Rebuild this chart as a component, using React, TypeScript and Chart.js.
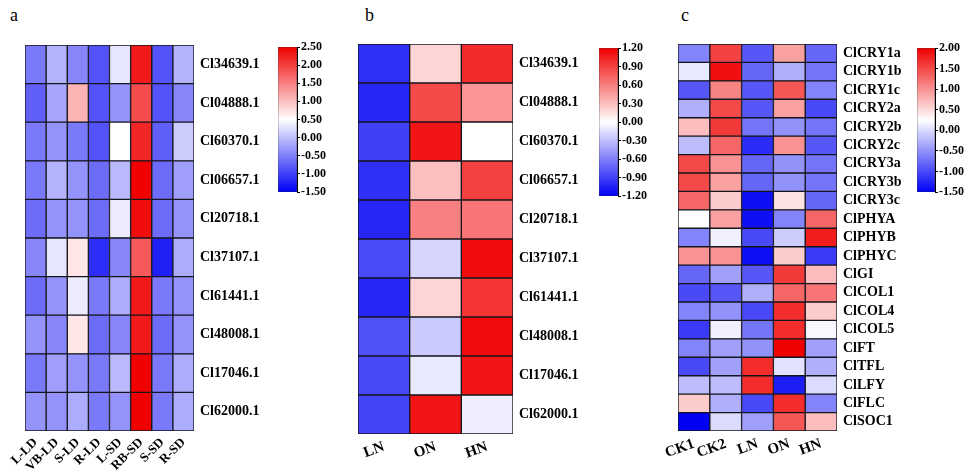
import React, { useEffect, useRef } from "react";
import { Chart, registerables } from "chart.js";

Chart.register(...registerables);
Chart.defaults.font.family = "'Liberation Serif', 'Times New Roman', serif";
Chart.defaults.color = "#000";

// ---------- Panel a ----------
const A_ROWS = ["Cl34639.1", "Cl04888.1", "Cl60370.1", "Cl06657.1", "Cl20718.1", "Cl37107.1", "Cl61441.1", "Cl48008.1", "Cl17046.1", "Cl62000.1"];
const A_COLS = ["L-LD", "VB-LD", "S-LD", "R-LD", "L-SD", "RB-SD", "S-SD", "R-SD"];
const A_VALUES = [
  [-0.55, -0.1, -0.45, -0.85, 0.3, 2.3, -0.85, -0.1],
  [-0.75, -0.2, 1.1, -0.85, -0.35, 1.9, -0.85, -0.45],
  [-0.55, -0.35, -0.55, -0.85, 0.5, 2.2, -0.75, 0.1],
  [-0.55, -0.1, -0.35, -0.65, -0.05, 2.5, -0.65, -0.25],
  [-0.65, -0.35, -0.35, -0.65, 0.35, 2.4, -0.65, -0.35],
  [-0.45, 0.3, 0.7, -1.15, -0.45, 1.8, -1.25, -0.15],
  [-0.65, -0.35, 0.35, -0.55, -0.15, 2.3, -0.55, -0.35],
  [-0.35, -0.45, 0.7, -0.65, -0.45, 2.3, -0.65, -0.35],
  [-0.55, -0.25, -0.35, -0.55, -0.05, 2.5, -0.55, -0.15],
  [-0.35, -0.35, -0.15, -0.55, -0.35, 2.5, -0.55, -0.15],
];
const A_MIN = -1.5;
const A_MAX = 2.5;
const A_STEP = 0.5;

// ---------- Panel b ----------
const B_ROWS = A_ROWS;
const B_COLS = ["LN", "ON", "HN"];
const B_VALUES = [
  [-0.98, 0.2, 1.0],
  [-1.02, 0.85, 0.5],
  [-0.9, 1.1, 0.0],
  [-0.98, 0.3, 0.9],
  [-1.02, 0.6, 0.65],
  [-0.85, -0.2, 1.15],
  [-1.02, 0.2, 0.95],
  [-0.82, -0.25, 1.15],
  [-0.86, -0.1, 1.1],
  [-0.88, 1.1, -0.08],
];
const B_MIN = -1.2;
const B_MAX = 1.2;
const B_STEP = 0.3;

// ---------- Panel c ----------
const C_ROWS = ["ClCRY1a", "ClCRY1b", "ClCRY1c", "ClCRY2a", "ClCRY2b", "ClCRY2c", "ClCRY3a", "ClCRY3b", "ClCRY3c", "ClPHYA", "ClPHYB", "ClPHYC", "ClGI", "ClCOL1", "ClCOL4", "ClCOL5", "ClFT", "ClTFL", "ClLFY", "ClFLC", "ClSOC1"];
const C_COLS = ["CK1", "CK2", "LN", "ON", "HN"];
const C_VALUES = [
  [-0.6, 1.55, -0.9, 0.9, -0.8],
  [0.1, 1.9, -0.8, -0.3, -0.7],
  [-0.9, 1.1, -0.9, 1.4, -0.6],
  [-0.3, 1.5, -0.9, 0.9, -1.0],
  [0.7, 1.6, -0.7, -0.5, -0.7],
  [-0.2, 1.3, -1.2, 1.0, -0.9],
  [1.5, 1.0, -0.8, -0.5, -0.7],
  [1.5, 0.9, -0.8, -0.5, -0.7],
  [1.3, 0.6, -1.4, 0.45, -0.8],
  [0.25, 0.9, -1.4, -0.6, 1.3],
  [-0.6, 0.15, -1.0, -0.1, 1.8],
  [1.0, 1.0, -1.4, 0.6, -1.1],
  [-0.8, -0.4, -0.9, 1.6, 0.7],
  [-1.0, -0.9, -0.3, 1.3, 1.2],
  [-0.6, -0.5, -1.0, 1.7, 0.6],
  [-1.1, 0.15, -0.7, 1.7, 0.2],
  [-0.6, -0.4, -0.5, 2.0, -0.4],
  [-1.0, -0.4, 1.7, 0.05, -0.3],
  [-0.2, -0.2, 1.7, -1.3, 0.0],
  [0.6, -0.3, -1.0, 1.7, -0.6],
  [-1.5, 0.0, -0.4, 1.4, 0.7],
];
const C_MIN = -1.5;
const C_MAX = 2.0;
const C_STEP = 0.5;

const LOW = [0, 0, 245];
const MID = [255, 255, 255];
const HIGH = [240, 0, 0];

function colorFor(v: number, min: number, max: number): string {
  const mid = (min + max) / 2;
  let a = MID, b = HIGH, t = 0;
  if (v >= mid) {
    t = Math.min(1, (v - mid) / (max - mid));
  } else {
    b = LOW;
    t = Math.min(1, (mid - v) / (mid - min));
  }
  const c = a.map((x, i) => Math.round(x + (b[i] - x) * t));
  return `rgb(${c[0]},${c[1]},${c[2]})`;
}

type HeatProps = {
  rows: string[];
  cols: string[];
  values: number[][];
  min: number;
  max: number;
  left: number;
  top: number;
  areaW: number;
  areaH: number;
  yW: number;
  axisH: number;
  rot: number;
  xFont: number;
  yFont: number;
};

function Heatmap(p: HeatProps) {
  const ref = useRef<HTMLCanvasElement>(null);
  const padL = 20;
  const W = padL + p.areaW + p.yW;
  const H = p.areaH + p.axisH;
  useEffect(() => {
    if (!ref.current) return;
    const chart = new Chart(ref.current, {
      type: "bar",
      data: {
        labels: p.rows,
        datasets: p.cols.map((c, ci) => ({
          label: c,
          data: p.rows.map(() => [ci, ci + 1]),
          backgroundColor: p.rows.map((_, ri) => colorFor(p.values[ri][ci], p.min, p.max)),
          borderColor: "#15151c",
          borderWidth: 1,
          borderSkipped: false,
          barPercentage: 1,
          categoryPercentage: 1,
          grouped: false,
          xAxisID: "x",
          yAxisID: "y",
        })),
      } as any,
      options: {
        indexAxis: "y",
        animation: false,
        responsive: false,
        maintainAspectRatio: false,
        layout: { padding: { left: padL, top: 0, right: 0, bottom: 0 } },
        plugins: { legend: { display: false }, tooltip: { enabled: false } },
        scales: {
          x: { type: "linear", min: 0, max: p.cols.length, display: false },
          x2: {
            type: "category",
            labels: p.cols,
            position: "bottom",
            offset: true,
            grid: { display: false, drawTicks: false },
            border: { display: false },
            ticks: {
              color: "#000",
              autoSkip: false,
              maxRotation: p.rot,
              minRotation: p.rot,
              padding: 4,
              font: { size: p.xFont, weight: "bold" },
            },
            afterFit: (s: any) => {
              s.height = p.axisH;
              s.paddingLeft = 0;
              s.paddingRight = 0;
            },
          },
          y: {
            type: "category",
            position: "right",
            offset: true,
            grid: { display: false, drawTicks: false },
            border: { display: false },
            ticks: {
              color: "#000",
              autoSkip: false,
              padding: 6,
              font: { size: p.yFont, weight: "bold" },
            },
            afterFit: (s: any) => {
              s.width = p.yW;
              s.paddingTop = 0;
              s.paddingBottom = 0;
            },
          },
        },
      } as any,
    });
    return () => chart.destroy();
  }, []);
  return (
    <canvas
      ref={ref}
      width={W}
      height={H}
      style={{ position: "absolute", left: p.left - padL, top: p.top, width: W, height: H }}
    />
  );
}

type BarProps = {
  min: number;
  max: number;
  step: number;
  left: number;
  top: number;
  areaW: number;
  areaH: number;
  yW: number;
};

function ColorBar(p: BarProps) {
  const ref = useRef<HTMLCanvasElement>(null);
  const pad = 8;
  const W = p.areaW + p.yW;
  const H = p.areaH + 2 * pad;
  useEffect(() => {
    if (!ref.current) return;
    const chart = new Chart(ref.current, {
      type: "bar",
      data: {
        labels: [""],
        datasets: [
          {
            data: [[p.min, p.max]],
            backgroundColor: (ctx: any) => {
              const area = ctx.chart.chartArea;
              if (!area) return "#fff";
              const g = ctx.chart.ctx.createLinearGradient(0, area.bottom, 0, area.top);
              g.addColorStop(0, `rgb(${LOW.join(",")})`);
              g.addColorStop(0.5, `rgb(${MID.join(",")})`);
              g.addColorStop(1, `rgb(${HIGH.join(",")})`);
              return g;
            },
            borderColor: "#333",
            borderWidth: 0.6,
            borderSkipped: false,
            barPercentage: 1,
            categoryPercentage: 1,
          },
        ],
      } as any,
      options: {
        animation: false,
        responsive: false,
        maintainAspectRatio: false,
        layout: { padding: { left: 0, top: pad, right: 0, bottom: pad } },
        plugins: { legend: { display: false }, tooltip: { enabled: false } },
        scales: {
          x: { display: false },
          y: {
            type: "linear",
            position: "right",
            min: p.min,
            max: p.max,
            grid: { drawOnChartArea: false, drawTicks: true, tickLength: 3, color: "#000" },
            border: { display: true, color: "#000" },
            ticks: {
              stepSize: p.step,
              color: "#000",
              padding: 1,
              font: { size: 12, weight: "bold" },
              callback: (v: any) => Number(v).toFixed(2),
            },
            afterFit: (s: any) => {
              s.width = p.yW;
              s.paddingTop = 0;
              s.paddingBottom = 0;
            },
          },
        },
      } as any,
    });
    return () => chart.destroy();
  }, []);
  return (
    <canvas
      ref={ref}
      width={W}
      height={H}
      style={{ position: "absolute", left: p.left, top: p.top - pad, width: W, height: H }}
    />
  );
}

const labelStyle = (left: number): React.CSSProperties => ({
  position: "absolute",
  left,
  top: 6,
  fontFamily: "'Liberation Serif', 'Times New Roman', serif",
  fontSize: 18,
  lineHeight: "18px",
  color: "#000",
});

export default function App() {
  return (
    <div
      style={{
        position: "fixed",
        left: 0,
        top: 0,
        width: 966,
        height: 471,
        background: "#fff",
        overflow: "hidden",
      }}
    >
      <div style={labelStyle(10)}>a</div>
      <div style={labelStyle(365)}>b</div>
      <div style={labelStyle(681)}>c</div>

      <Heatmap rows={A_ROWS} cols={A_COLS} values={A_VALUES} min={A_MIN} max={A_MAX}
        left={25} top={45} areaW={169} areaH={386} yW={75} axisH={40} rot={45} xFont={13} yFont={14} />
      <ColorBar min={A_MIN} max={A_MAX} step={A_STEP} left={278} top={47} areaW={19} areaH={145} yW={50} />

      <Heatmap rows={B_ROWS} cols={B_COLS} values={B_VALUES} min={B_MIN} max={B_MAX}
        left={358} top={44} areaW={155} areaH={390} yW={75} axisH={37} rot={20} xFont={15} yFont={14} />
      <ColorBar min={B_MIN} max={B_MAX} step={B_STEP} left={599} top={48} areaW={19} areaH={148} yW={50} />

      <Heatmap rows={C_ROWS} cols={C_COLS} values={C_VALUES} min={C_MIN} max={C_MAX}
        left={678} top={44} areaW={159} areaH={387} yW={64} axisH={40} rot={20} xFont={15} yFont={14} />
      <ColorBar min={C_MIN} max={C_MAX} step={C_STEP} left={917} top={48} areaW={18} areaH={144} yW={49} />
    </div>
  );
}
